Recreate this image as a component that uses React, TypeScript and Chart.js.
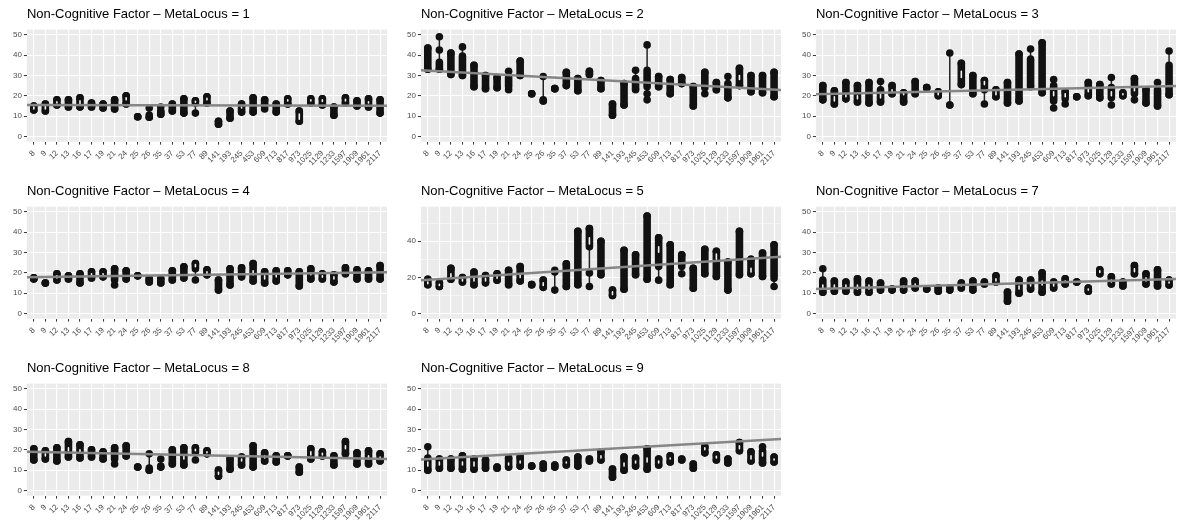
import React, { useEffect, useRef } from 'react';
import { Chart, registerables } from 'chart.js';

Chart.register(...registerables);
Chart.defaults.font.family = '"Liberation Sans", Arial, sans-serif';

// Category labels on the x axis (shared by all panels)
const categories = ['8', '9', '12', '13', '16', '17', '19', '21', '24', '25', '26', '35', '37', '53', '77', '89', '141', '193', '245', '453', '609', '713', '817', '973', '1025', '1129', '1233', '1597', '1909', '1961', '2117'];

// Per category: [min, dense low, dense high, max]
const ml1 = [[13, 13, 15, 15], [12.5, 12.5, 16, 16], [15.5, 15.5, 18, 18], [14.5, 14.5, 18, 18], [14.5, 14.5, 19, 19], [14.5, 14.5, 16.5, 16.5], [14, 14, 16, 16], [13.5, 13.5, 18, 18], [16, 16, 20, 20], [9.7, 9.7, 9.7, 9.7], [9.5, 9.5, 10.5, 14], [11, 11, 12, 14.5], [12.5, 12.5, 16, 16], [11.5, 11.5, 18.5, 18.5], [11.5, 16.5, 17.5, 17.5], [16.5, 16.5, 19.5, 19.5], [6, 6, 7.5, 7.5], [9, 9, 12.5, 12.5], [12, 12, 16, 16], [12, 12, 19, 19], [13.5, 15, 18, 18], [12, 12, 16, 16], [16, 16, 18.5, 18.5], [7.5, 7.5, 12.5, 12.5], [16.5, 16.5, 18.5, 18.5], [15.5, 15.5, 18.5, 18.5], [10.5, 10.5, 14.5, 14.5], [16.5, 16.5, 19, 19], [15, 15, 17.5, 17.5], [14.5, 14.5, 18.5, 18.5], [11.5, 11.5, 18, 18]];
const ml2 = [[33, 33, 43.5, 43.5], [33, 33, 36.5, 49], [30.5, 30.5, 41, 41], [30, 30, 39.5, 44], [24.5, 24.5, 35, 35], [23.5, 23.5, 30, 30], [24, 24, 29, 29], [23, 24.5, 29, 32], [30, 30, 37, 37], [21, 21, 21, 21], [17.5, 17.5, 18, 29.5], [23.5, 23.5, 23.5, 23.5], [25, 25, 31.5, 31.5], [22.5, 22.5, 28.5, 28.5], [30.5, 30.5, 32, 32], [23.5, 23.5, 27.5, 27.5], [10.5, 10.5, 16, 16], [15.5, 15.5, 26, 26], [23, 23.5, 28.5, 32.5], [18, 24.5, 32.5, 45], [24.5, 24.5, 29.5, 29.5], [21, 21, 28, 28], [26, 26, 29, 29], [15, 15, 24.5, 24.5], [21, 24, 31.5, 31.5], [23, 23, 26.5, 26.5], [19, 19, 26, 29.5], [25, 25, 33.5, 33.5], [22, 22, 30, 30], [21.5, 21.5, 30, 30], [19.5, 19.5, 31.5, 31.5]];
const ml3 = [[18, 18, 25, 25], [16, 16, 22.5, 22.5], [18.5, 18.5, 26.5, 26.5], [17, 17, 25, 25], [16.5, 16.5, 26.5, 26.5], [17, 17, 23, 27], [21, 21, 25, 25], [17, 17, 21.5, 21.5], [21, 21, 27, 27], [24, 24, 24, 24], [20, 20, 22, 22], [15.5, 15.5, 15.5, 41], [25.5, 25.5, 36, 36], [21, 21, 30, 30], [16, 23, 27.5, 27.5], [19.5, 19.5, 23, 23], [16.5, 16.5, 26.5, 26.5], [17.5, 17.5, 40.5, 40.5], [24.5, 25, 37, 43], [21.5, 21.5, 46, 46], [14, 17.5, 25, 28], [16, 18.5, 22, 22], [19.5, 19.5, 19.5, 19.5], [20, 20, 26.5, 26.5], [19, 19, 25.5, 25.5], [15.5, 19, 24, 29], [20, 20, 21.5, 21.5], [18, 21, 28.5, 28.5], [16.5, 16.5, 23, 23], [15, 15, 23, 26.5], [20.5, 20.5, 35, 42]];
const ml4 = [[17, 17, 17.5, 17.5], [15, 15, 15, 15], [16.5, 16.5, 19.5, 19.5], [17, 17, 18.5, 18.5], [15, 15, 19.5, 19.5], [17.5, 17.5, 20.5, 20.5], [18, 18, 20.5, 20.5], [14, 16.5, 22, 22], [17, 17, 21, 21], [18.5, 18.5, 18.5, 18.5], [15.5, 15.5, 17, 17], [15, 15, 17, 17], [16.5, 16.5, 21, 21], [17.5, 17.5, 23, 23], [16.5, 22, 24.5, 24.5], [19, 19, 21.5, 21.5], [11.5, 11.5, 16.5, 16.5], [14, 14, 22, 22], [18, 18, 22.5, 22.5], [16, 16, 24.5, 24.5], [15, 15, 20.5, 20.5], [16, 16, 21, 21], [19, 19, 21, 21], [13.5, 13.5, 20.5, 20.5], [17, 17, 22, 22], [17, 17, 19.5, 19.5], [15.5, 15.5, 19, 19], [19.5, 19.5, 22.5, 22.5], [17, 17, 21.5, 21.5], [17, 17, 21, 21], [17, 17, 23.5, 23.5]];
const ml5 = [[16, 16, 19, 19], [15, 15, 17, 17], [19, 19, 25, 25], [17.5, 17.5, 20, 20], [16, 16, 23, 23], [17, 17, 21, 21], [18.5, 18.5, 22, 22], [16, 16, 24, 24], [18, 18, 26, 26], [16, 16, 16, 16], [14.5, 14.5, 18.5, 18.5], [13, 23, 23, 24], [15, 15, 27.5, 27.5], [16, 16, 45.5, 45.5], [15, 37, 47, 47], [21.5, 21.5, 40, 40], [10, 10, 13, 13], [13.5, 13.5, 35, 35], [21.5, 21.5, 32.5, 32.5], [19, 19, 54, 54], [18.5, 26, 42, 42], [16, 16, 38, 38], [22, 26, 32.5, 32.5], [14, 14, 25, 25], [22, 22, 35.5, 35.5], [20.5, 20.5, 34.5, 34.5], [13, 13, 28.5, 28.5], [21.5, 21.5, 45.5, 45.5], [22, 22, 30, 30], [20.5, 20.5, 33.5, 33.5], [15, 19.5, 38, 38]];
const ml7 = [[10.5, 10.5, 16.5, 22], [11, 11, 16, 16], [11, 11, 15.5, 15.5], [10.5, 10.5, 17, 17], [10.5, 10.5, 16, 16], [11.5, 11.5, 15, 15], [11.5, 11.5, 12, 12], [11.5, 11.5, 16, 16], [12.5, 12.5, 16, 16], [12, 12, 12, 12], [11, 11, 12.5, 12.5], [11.5, 11.5, 12.5, 12.5], [12.5, 12.5, 15, 15], [11.5, 11.5, 16, 16], [14.5, 14.5, 15.5, 15.5], [15.5, 15.5, 18.5, 18.5], [6, 6, 10.5, 10.5], [10, 10, 16.5, 16.5], [12, 12, 16.5, 16.5], [10.5, 10.5, 20, 20], [12.5, 12.5, 15.5, 15.5], [14.5, 14.5, 17, 17], [15.5, 15.5, 15.5, 15.5], [11, 11, 12.5, 12.5], [19.5, 19.5, 21.5, 21.5], [14.5, 14.5, 18, 18], [13.5, 13.5, 15.5, 15.5], [19.5, 19.5, 23.5, 23.5], [14.5, 14.5, 19.5, 19.5], [13.5, 13.5, 21.5, 21.5], [14, 14, 16.5, 16.5]];
const ml8 = [[15, 15, 20.5, 20.5], [15.5, 15.5, 19.5, 19.5], [14.5, 14.5, 21, 21], [16.5, 16.5, 24, 24], [16, 16, 22.5, 22.5], [16.5, 16.5, 20, 20], [15.5, 15.5, 19, 19], [13, 15.5, 21, 21], [17, 17, 22, 22], [11.5, 11.5, 11.5, 11.5], [10, 10, 11, 18], [11.5, 11.5, 12, 15.5], [13, 13, 20, 20], [12.5, 12.5, 21, 21], [15, 18.5, 21, 21], [18, 18, 19.5, 19.5], [7, 7, 10, 10], [10.5, 10.5, 15.5, 15.5], [12.5, 12.5, 16.5, 16.5], [11.5, 11.5, 22, 22], [14.5, 14.5, 18.5, 18.5], [14, 14, 17, 17], [17, 17, 17, 17], [9, 9, 11.5, 11.5], [15.5, 15.5, 20.5, 20.5], [17, 17, 19, 19], [12.5, 12.5, 17, 17], [18, 18, 24, 24], [13, 13, 18.5, 18.5], [13, 13, 19.5, 19.5], [14.5, 14.5, 18, 18]];
const ml9 = [[10, 10, 16, 21.5], [11, 11, 15.5, 15.5], [11, 11, 15.5, 15.5], [10.5, 10.5, 17, 17], [10.5, 10.5, 15.5, 15.5], [11, 11, 15, 15], [11, 11, 11.5, 11.5], [11.5, 11.5, 16, 16], [12, 12, 16.5, 16.5], [12, 12, 12, 12], [11, 11, 13, 13], [11.5, 11.5, 12.5, 12.5], [12.5, 12.5, 15, 15], [12, 12, 16.5, 16.5], [14.5, 14.5, 15.5, 15.5], [15, 15, 19, 19], [6.5, 6.5, 10.5, 10.5], [10, 10, 16.5, 16.5], [12, 12, 16, 16], [10.5, 10.5, 20.5, 20.5], [12.5, 12.5, 15.5, 15.5], [14, 14, 17, 17], [15, 15, 15.5, 15.5], [11, 11, 13, 13], [18.5, 18.5, 21.5, 21.5], [15, 15, 17.5, 17.5], [13.5, 13.5, 15.5, 15.5], [19.5, 19.5, 23.5, 23.5], [14.5, 14.5, 19, 19], [13.5, 13.5, 19.5, 21.5], [14, 14, 16.5, 16.5]];

// Extra isolated points: [category, value]
const extra1: [string, number][] = [['35', 12.5]];
const extra2: [string, number][] = [['9', 42.5], ['453', 21]];
const extra3: [string, number][] = [['245', 38]];
const extra5: [string, number][] = [['77', 22.5]];

// Violins whose light interior shows through: [category, from, to]
const hollow1: [string, number, number][] = [['8', 13.5, 14.5], ['9', 13.5, 15], ['12', 16.5, 17], ['16', 16, 17.5], ['24', 18, 19], ['77', 16.8, 17.3], ['89', 18, 18.8], ['245', 14, 14.5], ['817', 17.5, 18], ['973', 8.5, 11], ['1025', 17.5, 18], ['1129', 17.2, 18], ['1597', 17.5, 18.3], ['1961', 16.5, 17]];
const hollow2: [string, number, number][] = [['1597', 28, 30]];
const hollow3: [string, number, number][] = [['9', 17.5, 19.5], ['12', 19.5, 21], ['13', 18.5, 20], ['17', 19, 21], ['19', 22, 23], ['21', 20.5, 21.3], ['26', 20.5, 21.5], ['37', 29, 32], ['77', 25.5, 27], ['89', 20.5, 22], ['609', 20, 22], ['713', 19.5, 21], ['973', 22, 24], ['1129', 20, 22], ['1233', 20.5, 21], ['1597', 22.5, 24]];
const hollow4: [string, number, number][] = [['12', 17.5, 18.5], ['17', 18.5, 19.5], ['19', 18.8, 19.5], ['77', 23, 24], ['89', 19.8, 20.5], ['453', 19, 21], ['609', 17, 18.5], ['713', 18, 19], ['1025', 19, 20], ['1129', 17.8, 18.5], ['1233', 17, 18]];
const hollow5: [string, number, number][] = [['8', 16.5, 17.5], ['9', 15.5, 16.2], ['12', 20, 22], ['13', 18, 19], ['16', 18, 20], ['17', 18, 19.5], ['19', 19.5, 20.5], ['24', 20, 22], ['26', 15.5, 17], ['77', 38.5, 42], ['141', 10.5, 12], ['609', 34, 37], ['1129', 30, 33], ['1909', 23, 25]];
const hollow7: [string, number, number][] = [['8', 12, 14], ['9', 12.5, 14], ['12', 12.5, 14], ['13', 12, 14], ['16', 12, 14], ['21', 12.8, 13.5], ['24', 13.5, 14.5], ['37', 13.5, 14], ['89', 16, 17], ['193', 12, 13.5], ['245', 13.5, 14.5], ['453', 14, 16], ['609', 13.5, 14.5], ['713', 15.5, 16], ['973', 11.5, 12], ['1025', 20.2, 21], ['1129', 15.5, 16.5], ['1597', 20.5, 22], ['1909', 16, 17.5], ['2117', 15, 15.5]];
const hollow8: [string, number, number][] = [['9', 17, 18], ['13', 19.5, 21], ['16', 19, 20], ['53', 15.5, 17], ['77', 19.5, 20.2], ['89', 18.5, 19], ['141', 8, 9], ['245', 14.5, 15.5], ['609', 16, 17], ['1025', 17.5, 19], ['1129', 17.5, 18.3], ['1597', 20.5, 22], ['1961', 15.5, 17], ['2117', 15.8, 16.5]];
const hollow9: [string, number, number][] = [['8', 12, 14], ['9', 12.5, 14], ['13', 12.5, 14], ['16', 12, 14], ['21', 12.5, 13.5], ['24', 13.5, 14.5], ['37', 13.5, 14], ['89', 16, 17], ['193', 12, 13.5], ['245', 13.5, 14.5], ['453', 14, 16], ['609', 13.5, 14.5], ['713', 15.5, 16], ['1025', 20, 21], ['1129', 16, 16.8], ['1597', 20.5, 22], ['1909', 15.5, 17], ['1961', 17, 18.5], ['2117', 15, 15.5]];

// Linear fit line: [value at left edge, value at right edge]
const fit1 = [15.5, 15.1];
const fit2 = [32.6, 22.8];
const fit3 = [20.8, 24.8];
const fit4 = [17.8, 20.3];
const fit5 = [18.5, 31.5];
const fit7 = [12.0, 17.0];
const fit8 = [19.0, 15.5];
const fit9 = [15.2, 25.3];

// y tick values
const yTicksStd = [0, 5, 10, 15, 20, 25, 30, 35, 40, 45, 50];
const yTicksWide = [0, 10, 20, 30, 40, 50];

type PanelDef = {
  locus: string; data: number[][]; extra: [string, number][]; hollow: [string, number, number][]; fit: number[];
  yMin: number; yMax: number; ticks: number[]; major: number;
};

const panels: PanelDef[] = [
  { locus: '1', data: ml1, extra: extra1, hollow: hollow1, fit: fit1, yMin: -2.5, yMax: 52.5, ticks: yTicksStd, major: 10 },
  { locus: '2', data: ml2, extra: extra2, hollow: hollow2, fit: fit2, yMin: -2.5, yMax: 52.5, ticks: yTicksStd, major: 10 },
  { locus: '3', data: ml3, extra: extra3, hollow: hollow3, fit: fit3, yMin: -2.5, yMax: 52.5, ticks: yTicksStd, major: 10 },
  { locus: '4', data: ml4, extra: [], hollow: hollow4, fit: fit4, yMin: -2.5, yMax: 52.5, ticks: yTicksStd, major: 10 },
  { locus: '5', data: ml5, extra: extra5, hollow: hollow5, fit: fit5, yMin: -2.8, yMax: 59.2, ticks: yTicksWide, major: 20 },
  { locus: '7', data: ml7, extra: [], hollow: hollow7, fit: fit7, yMin: -2.5, yMax: 52.5, ticks: yTicksStd, major: 10 },
  { locus: '8', data: ml8, extra: [], hollow: hollow8, fit: fit8, yMin: -2.5, yMax: 52.5, ticks: yTicksStd, major: 10 },
  { locus: '9', data: ml9, extra: [], hollow: hollow9, fit: fit9, yMin: -2.5, yMax: 52.5, ticks: yTicksStd, major: 10 },
];

const X_MIN = -0.6;
const X_MAX = categories.length - 1 + 0.6;
const CELL_W = 394;
const CELL_H = 173;
const ROW_TOPS = [0, 177, 354];
const COL_LEFTS = [0, 394, 789];

const panelBg = {
  id: 'panelBg',
  beforeDraw(chart: any) {
    const { ctx, chartArea: a } = chart;
    ctx.save();
    ctx.fillStyle = '#EBEBEB';
    ctx.fillRect(a.left, a.top, a.right - a.left, a.bottom - a.top);
    ctx.restore();
  },
};

function Panel({ p, left, top }: { p: PanelDef; left: number; top: number }) {
  const ref = useRef<HTMLCanvasElement>(null);
  useEffect(() => {
    const canvas = ref.current!;
    const rangeLine: any[] = [];
    const capsule: any[] = [];
    const core: any[] = [];
    const pts: any[] = [];
    p.data.forEach((d, i) => {
      rangeLine.push({ x: i, y: d[0] }, { x: i, y: d[3] }, { x: i, y: null });
      capsule.push({ x: i, y: d[1] }, { x: i, y: d[2] }, { x: i, y: null });
      pts.push({ x: i, y: d[0] }, { x: i, y: d[3] });
    });
    p.hollow.forEach(([c, a, b]) => {
      const i = categories.indexOf(c);
      core.push({ x: i, y: a }, { x: i, y: b }, { x: i, y: null });
    });
    p.extra.forEach(([c, v]) => pts.push({ x: categories.indexOf(c), y: v }));

    const chart = new Chart(canvas, {
      type: 'line',
      data: {
        datasets: [
          { data: [{ x: X_MIN, y: p.fit[0] }, { x: X_MAX, y: p.fit[1] }], borderColor: '#868686', borderWidth: 2.5, pointRadius: 0, fill: false, order: 0 } as any,
          { data: core, borderColor: '#F4F4F4', borderWidth: 1.6, borderCapStyle: 'round', pointRadius: 0, spanGaps: false, fill: false, order: 1 } as any,
          { data: pts, showLine: false, pointRadius: 3.8, pointBackgroundColor: '#111111', pointBorderWidth: 0, order: 2 } as any,
          { data: capsule, borderColor: '#111111', borderWidth: 7.6, borderCapStyle: 'round', pointRadius: 0, spanGaps: false, fill: false, order: 3 } as any,
          { data: rangeLine, borderColor: '#222222', borderWidth: 1.5, pointRadius: 0, spanGaps: false, fill: false, order: 4 } as any,
        ],
      },
      options: {
        animation: false,
        responsive: false,
        devicePixelRatio: 1,
        layout: { padding: { left: 11, right: 7, top: 0, bottom: 1 } },
        plugins: {
          legend: { display: false },
          tooltip: { enabled: false },
          title: {
            display: true,
            text: `Non-Cognitive Factor – MetaLocus = ${p.locus}`,
            align: 'start',
            fullSize: false,
            color: '#000000',
            font: { size: 13, weight: 'normal' },
            padding: { top: 7, bottom: 7 },
          },
        },
        scales: {
          x: {
            type: 'linear',
            min: X_MIN,
            max: X_MAX,
            offset: false,
            afterBuildTicks: (scale: any) => { scale.ticks = categories.map((_, i) => ({ value: i })); },
            ticks: {
              autoSkip: false,
              maxRotation: 45,
              minRotation: 45,
              padding: 4,
              color: '#4D4D4D',
              font: { size: 8 },
              callback: (v: any) => categories[v as number] ?? '',
            },
            grid: { color: '#FFFFFF', lineWidth: 1.1, tickColor: '#333333', tickLength: 3, tickWidth: 1 },
            border: { display: false },
          },
          y: {
            type: 'linear',
            min: p.yMin,
            max: p.yMax,
            afterBuildTicks: (scale: any) => { scale.ticks = p.ticks.map((v) => ({ value: v })); },
            ticks: {
              padding: 2,
              color: '#4D4D4D',
              font: { size: 8 },
              callback: (v: any) => ((v as number) % p.major === 0 ? String(v) : ''),
            },
            grid: {
              color: '#FFFFFF',
              lineWidth: (ctx: any) => (ctx.tick && ctx.tick.value % p.major === 0 ? 1.1 : 0.5),
              tickColor: (ctx: any) => (ctx.tick && ctx.tick.value % p.major === 0 ? '#333333' : 'rgba(0,0,0,0)'),
              tickLength: 3,
              tickWidth: 1,
            },
            border: { display: false },
          },
        },
      },
      plugins: [panelBg],
    } as any);
    return () => chart.destroy();
  }, [p]);
  return (
    <canvas
      ref={ref}
      width={CELL_W}
      height={CELL_H}
      style={{ position: 'absolute', left, top, width: CELL_W, height: CELL_H }}
    />
  );
}

export default function App() {
  return (
    <div style={{ position: 'fixed', left: 0, top: 0, width: 1183, height: 527, background: '#FFFFFF', overflow: 'hidden' }}>
      {panels.map((p, k) => (
        <Panel key={p.locus} p={p} left={COL_LEFTS[k % 3]} top={ROW_TOPS[Math.floor(k / 3)]} />
      ))}
    </div>
  );
}
